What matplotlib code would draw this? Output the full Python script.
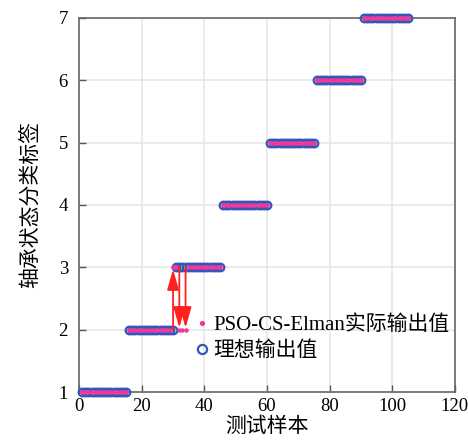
import numpy as np
import matplotlib.pyplot as plt

plt.rcParams['font.family'] = ['Liberation Serif', 'Noto Sans CJK SC']
plt.rcParams['axes.unicode_minus'] = False

# class labels and number of test samples per class
classes = [1, 2, 3, 4, 5, 6, 7]
counts = [15, 15, 15, 15, 15, 15, 15]

# misclassified samples: sample index -> predicted label
errors = {30: 3, 32: 2, 33: 2, 34: 2}
arrow_samples = [30, 32, 34]

ideal = np.repeat(classes, counts)
samples = np.arange(1, len(ideal) + 1)
pred = ideal.copy()
for k, v in errors.items():
    pred[k - 1] = v

fig = plt.figure(figsize=(4.68, 4.45), dpi=100)
ax = fig.add_axes([0.169, 0.119, 0.803, 0.841])

ax.plot(samples, ideal, 'o', ms=5.5, mfc='none', mec='#3556b8', mew=1.6,
        clip_on=False, zorder=3, label='理想输出值')
ax.plot(samples, pred, '.', ms=4.5, color='#f0389a', clip_on=False, zorder=4,
        label='PSO-CS-Elman实际输出值')

for s in arrow_samples:
    up = pred[s - 1] > ideal[s - 1]
    tip = pred[s - 1] - 0.03 if up else pred[s - 1] + 0.03
    ax.annotate('', xy=(s, tip), xytext=(s, ideal[s - 1]),
                arrowprops=dict(arrowstyle='-|>,head_length=0.7,head_width=0.2',
                                color='#ff2020', lw=1.3,
                                mutation_scale=18, shrinkA=0, shrinkB=0),
                zorder=5)

ax.set_xlim(0, 120)
ax.set_ylim(1, 7)
ax.set_xticks(np.arange(0, 121, 20))
ax.set_yticks(np.arange(1, 8, 1))
ax.grid(True, color='#e6e6e6', lw=1.2)
ax.set_axisbelow(True)
ax.tick_params(direction='in', labelsize=13.5, length=5, width=1, color='#555555', pad=4)
ax.tick_params(axis='y', pad=8)
for sp in ax.spines.values():
    sp.set_color('#666666')
    sp.set_linewidth(1.2)

ax.set_xlabel('测试样本', fontsize=15, labelpad=2)
ax.set_ylabel('轴承状态分类标签', fontsize=15, labelpad=12)

h, l = ax.get_legend_handles_labels()
ax.legend(h[::-1], l[::-1], loc='lower left', bbox_to_anchor=(0.28, 0.06),
          frameon=False, fontsize=15, handletextpad=0.1, handlelength=0.9,
          labelspacing=0.3, borderaxespad=0, markerscale=1.2)

fig.savefig('out.png', dpi=100)
